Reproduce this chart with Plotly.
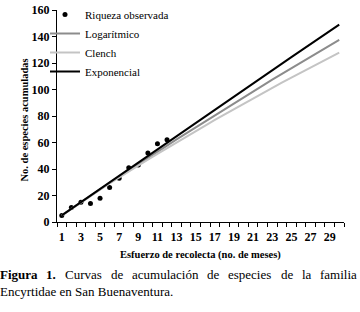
import plotly.graph_objects as go

months = list(range(1, 31))
obs_months = list(range(1, 13))
riqueza_observada = [5, 11, 15, 14, 18, 26, 33, 41, 43, 52, 59, 62]
logaritmico = [5, 10, 14.9, 19.8, 24.7, 29.5, 34.3, 39.1, 43.8, 48.5, 53.1, 57.7, 62.3,
               66.9, 71.5, 76, 80.5, 85, 89.5, 94, 98.5, 103, 107.4, 111.8, 116.2,
               120.5, 124.8, 129.1, 133.3, 137.5]
clench = [5, 10, 14.9, 19.7, 24.4, 29.1, 33.7, 38.2, 42.6, 47, 51.4, 55.8, 60.1,
          64.4, 68.6, 72.8, 77, 81.1, 85.2, 89.3, 93.3, 97.3, 101.2, 105.1, 109,
          112.9, 116.7, 120.5, 124.2, 127.9]
exponencial = [5, 10, 15, 20, 25, 30, 35, 40, 45, 50, 55, 60, 65, 70, 75, 80, 85,
               90, 95, 100, 104.8, 109.7, 114.6, 119.5, 124.4, 129.3, 134.2, 139.1,
               144, 149]
x_ticks = list(range(1, 30, 2))
y_ticks = [0, 20, 40, 60, 80, 100, 120, 140, 160]

SERIF = "Liberation Serif, Times New Roman, serif"
W, H = 360, 312

fig = go.Figure()
fig.add_trace(go.Scatter(x=obs_months, y=riqueza_observada, mode="markers",
                         name="Riqueza observada",
                         marker=dict(color="black", size=5)))
fig.add_trace(go.Scatter(x=months, y=logaritmico, mode="lines", name="Logarítmico",
                         line=dict(color="#8c8c8c", width=2)))
fig.add_trace(go.Scatter(x=months, y=clench, mode="lines", name="Clench",
                         line=dict(color="#c4c4c4", width=2)))
fig.add_trace(go.Scatter(x=months, y=exponencial, mode="lines", name="Exponencial",
                         line=dict(color="black", width=2)))

fig.update_layout(
    width=W, height=H, margin=dict(l=0, r=0, t=0, b=0, autoexpand=False),
    paper_bgcolor="white", plot_bgcolor="white",
    font=dict(family=SERIF, color="black"),
    showlegend=True,
    legend=dict(x=45 / W, y=1.0, xanchor="left", yanchor="top",
                bgcolor="rgba(0,0,0,0)", font=dict(family=SERIF, size=11),
                tracegroupgap=0, itemwidth=30),
    xaxis=dict(domain=[57 / W, 344 / W], range=[0.5, 30.5], automargin=False,
               tickvals=x_ticks, ticktext=[str(v) for v in x_ticks],
               ticks="", showgrid=False, zeroline=False, ticklabelstandoff=4,
               showline=True, linecolor="black", linewidth=1,
               tickfont=dict(family=SERIF, size=12, weight="bold"),
               minor=dict(tickvals=[v + 0.5 for v in [0] + months], ticks="outside",
                          ticklen=4, tickcolor="black", showgrid=False)),
    yaxis=dict(domain=[90 / H, 302 / H], range=[0, 160], tickvals=y_ticks,
               automargin=False,
               ticks="outside", ticklen=4, tickcolor="black",
               showgrid=False, zeroline=False, showline=True,
               linecolor="black", linewidth=1,
               tickfont=dict(family=SERIF, size=12, weight="bold")),
)

fig.add_annotation(text="<b>No. de especies acumuladas</b>", x=17 / W, y=(H - 120) / H,
                   xref="paper", yref="paper", showarrow=False, textangle=-90,
                   font=dict(family=SERIF, size=10.5))
fig.add_annotation(text="<b>Esfuerzo de recolecta (no. de meses)</b>", x=200 / W,
                   y=(H - 263) / H, xref="paper", yref="paper", showarrow=False,
                   font=dict(family=SERIF, size=10.5))

caption_words = [("<b>Figura</b>", -2), ("<b>1.</b>", 44), ("Curvas", 63), ("de", 109),
                 ("acumulación", 130), ("de", 205), ("especies", 226), ("de", 279),
                 ("la", 300), ("familia", 318)]
for txt, xp in caption_words:
    fig.add_annotation(text=txt, x=xp / W, y=(H - 284) / H, xref="paper", yref="paper",
                       xanchor="left", showarrow=False,
                       font=dict(family=SERIF, size=13))
fig.add_annotation(text="Encyrtidae en San Buenaventura.", x=-2 / W, y=(H - 301) / H,
                   xref="paper", yref="paper", xanchor="left", showarrow=False,
                   font=dict(family=SERIF, size=13))

fig.write_html("out.html", config={"displayModeBar": False},
               post_script="document.body.style.margin='0px';")
